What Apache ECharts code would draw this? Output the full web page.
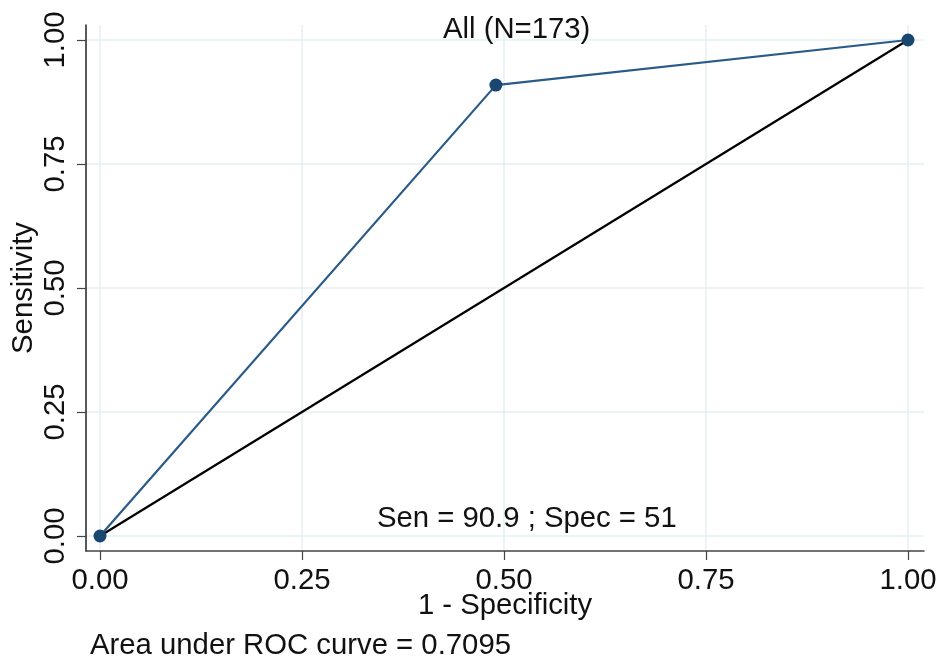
<!DOCTYPE html>
<html>
<head>
<meta charset="utf-8">
<script src="https://cdn.jsdelivr.net/npm/echarts@6/dist/echarts.min.js"></script>
<style>html,body{margin:0;padding:0;background:#fff;}#c{width:938px;height:658px;}</style>
</head>
<body>
<div id="c"></div>
<script>
// Data
const rocX = [0, 0.49, 1];
const rocY = [0, 0.909, 1];
const refX = [0, 1];
const refY = [0, 1];
const tickValues = [0, 0.25, 0.5, 0.75, 1];
const titleText = 'All (N=173)';
const noteText = 'Sen = 90.9 ; Spec = 51';
const aucText = 'Area under ROC curve = 0.7095';
const xName = '1 - Specificity';
const yName = 'Sensitivity';

const FONT = 'Liberation Sans, Arial, sans-serif';
const FS = 29.3;
const chart = echarts.init(document.getElementById('c'), null, {renderer: 'canvas'});
const fmt = v => Number(v).toFixed(2);

chart.setOption({
  animation: false,
  backgroundColor: '#ffffff',
  textStyle: {fontFamily: FONT},
  grid: {left: 86, right: 14, top: 25, bottom: 107, containLabel: false, outerBoundsMode: 'none'},
  xAxis: {
    type: 'value', min: -0.0173, max: 1.0198,
    name: xName, nameLocation: 'middle', nameGap: 40, nameMoveOverlap: false,
    nameTextStyle: {fontSize: FS, color: '#111', fontFamily: FONT},
    axisLine: {show: true, onZero: false, lineStyle: {color: '#444', width: 1.5}},
    axisTick: {show: true, length: 9, customValues: tickValues, lineStyle: {color: '#444', width: 1.2}},
    axisLabel: {customValues: tickValues, formatter: fmt, fontSize: FS, color: '#111', margin: 15, fontFamily: FONT},
    splitLine: {show: true, lineStyle: {color: '#e6eff0', width: 1.5}}
  },
  yAxis: {
    type: 'value', min: -0.0302, max: 1.0302,
    name: yName, nameLocation: 'middle', nameGap: 48, nameRotate: 90, nameMoveOverlap: false,
    nameTextStyle: {fontSize: FS, color: '#111', fontFamily: FONT},
    axisLine: {show: true, onZero: false, lineStyle: {color: '#222', width: 1.5}},
    axisTick: {show: true, length: 9, customValues: tickValues, lineStyle: {color: '#444', width: 1.2}},
    axisLabel: {customValues: tickValues, formatter: fmt, rotate: 90, fontSize: FS, color: '#111', margin: 16, fontFamily: FONT},
    splitLine: {show: true, lineStyle: {color: '#e6eff0', width: 1.5}}
  },
  series: [
    {
      type: 'line', data: refX.map((x, i) => [x, refY[i]]),
      showSymbol: false, symbol: 'none',
      lineStyle: {color: '#000', width: 2.2}, silent: true, z: 2
    },
    {
      type: 'line', data: rocX.map((x, i) => [x, rocY[i]]),
      symbol: 'circle', symbolSize: 13, showSymbol: true,
      itemStyle: {color: '#1a476f'},
      lineStyle: {color: '#2a5a88', width: 2.2}, silent: true, z: 3
    }
  ],
  graphic: [
    {type: 'text', left: 443, top: 15, z: 10, style: {text: titleText, fontSize: FS, fill: '#111', fontFamily: FONT}},
    {type: 'text', left: 377, top: 504, z: 10, style: {text: noteText, fontSize: FS, fill: '#111', fontFamily: FONT}},
    {type: 'text', left: 90, top: 631, z: 10, style: {text: aucText, fontSize: FS, fill: '#111', fontFamily: FONT}}
  ]
});
</script>
</body>
</html>
